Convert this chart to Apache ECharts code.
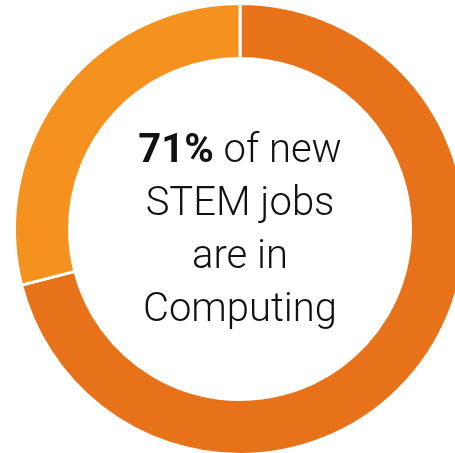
<!DOCTYPE html>
<html>
<head>
<meta charset="utf-8">
<script src="https://cdn.jsdelivr.net/npm/echarts@6/dist/echarts.min.js"></script>
<style>
html,body{margin:0;padding:0;background:#fff;}
#c{width:455px;height:453px;}
</style>
</head>
<body>
<div id="c"></div>
<script>
const categories = ['Computing', 'Other STEM'];
const values = [71, 29];
const colors = ['#E8721A', '#F5921F'];
const headline = '71%';
const textLines = ['of new', 'STEM jobs', 'are in', 'Computing'];

const chart = echarts.init(document.getElementById('c'), null, {renderer: 'canvas'});
chart.setOption({
  animation: false,
  backgroundColor: '#ffffff',
  graphic: [{
    type: 'text',
    x: 240,
    y: 231,
    style: {
      text: '{b|' + headline + '}{n| ' + textLines[0] + '}\n{n|' + textLines[1] + '}\n{n|' + textLines[2] + '}\n{n|' + textLines[3] + '}',
      align: 'center',
      verticalAlign: 'middle',
      rich: {
        b: {fontFamily: 'Roboto', fontWeight: 'bold', fontSize: 40, lineHeight: 53, fill: '#111111'},
        n: {fontFamily: 'Roboto', fontWeight: 300, fontSize: 40, lineHeight: 53, fill: '#111111'}
      }
    },
    z: 10
  }],
  series: [{
    type: 'pie',
    center: [240, 229],
    radius: [170.5, 225.5],
    startAngle: 90,
    clockwise: true,
    silent: true,
    label: {show: false},
    labelLine: {show: false},
    itemStyle: {borderColor: '#ffffff', borderWidth: 3},
    data: categories.map((c, i) => ({name: c, value: values[i], itemStyle: {color: colors[i]}}))
  }]
});
</script>
</body>
</html>
